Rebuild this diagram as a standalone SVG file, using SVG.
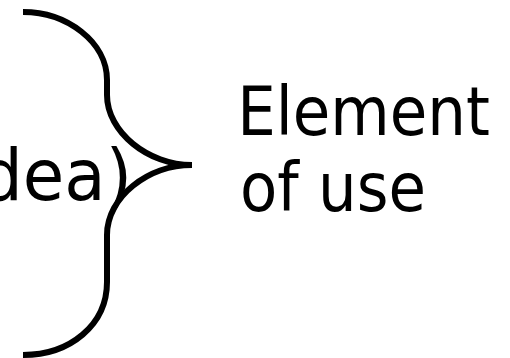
<svg xmlns="http://www.w3.org/2000/svg" width="510" height="358" viewBox="0 0 510 358">
<style>
.t{font-family:"DejaVu Sans","Verdana",sans-serif;fill:#000}
.brace{fill:none;stroke:#000;stroke-width:6;stroke-linecap:butt;stroke-linejoin:round}
</style>
<rect width="510" height="358" fill="#fff"/>
<g id="left-label">
<text class="t" x="132" y="200" font-size="72" text-anchor="end" textLength="152" lengthAdjust="spacingAndGlyphs">dea)</text>
</g>
<g id="connectors">
<path class="brace" d="M 23 12 C 67 12, 107 42, 107 80 L 107 95 C 107 132, 148 165, 192 165"/>
<path class="brace" d="M 192 165 C 148 165, 107 197, 107 235 L 107 282 C 107 325, 70 355, 23 355"/>
</g>
<g id="right-label">
<text class="t" x="237.3" y="135" font-size="68" textLength="252.6" lengthAdjust="spacingAndGlyphs">Element</text>
<text class="t" x="239.9" y="210.5" font-size="68" textLength="186" lengthAdjust="spacingAndGlyphs">of use</text>
</g>
</svg>
